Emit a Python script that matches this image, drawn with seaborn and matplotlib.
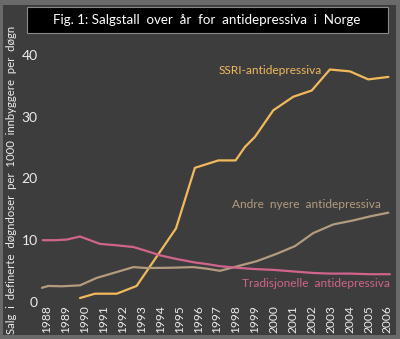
import matplotlib
matplotlib.use("Agg")
import matplotlib.pyplot as plt
from matplotlib.patches import Rectangle
import pandas as pd
import seaborn as sns

sns.set_style("white")
plt.rcParams["font.family"] = ["Lato", "DejaVu Sans"]

# Data (fractional year positions, DDD per 1000 inhabitants per day)
ssri_x = [1989.76, 1990.55, 1991.70, 1992.75, 1994.83, 1995.83, 1997.07, 1997.98,
          1998.48, 1999.0, 1999.97, 2001.03, 2002.0, 2002.96, 2004.02, 2004.99, 2006.05]
ssri_y = [0.65, 1.35, 1.35, 2.6, 11.9, 21.7, 22.9, 22.9,
          25.1, 26.7, 31.0, 33.2, 34.2, 37.6, 37.3, 36.0, 36.4]

trad_x = [1987.79, 1988.44, 1989.06, 1989.76, 1990.82, 1991.61, 1992.58, 1993.28, 1993.99,
          1994.87, 1995.83, 1996.45, 1997.15, 1998.03, 1998.9, 1999.97, 2001.03, 2002.08,
          2002.96, 2004.02, 2005.08, 2006.13]
trad_y = [10.0, 10.0, 10.1, 10.6, 9.4, 9.2, 8.9, 8.25, 7.55,
          6.95, 6.4, 6.15, 5.8, 5.55, 5.35, 5.2, 4.95, 4.7,
          4.6, 4.6, 4.5, 4.5]

andre_x = [1987.74, 1988.09, 1988.8, 1989.76, 1990.64, 1991.70, 1992.58, 1993.28, 1994.6,
           1995.75, 1996.45, 1997.15, 1998.03, 1999.09, 2000.15, 2001.12, 2002.08, 2003.14,
           2004.2, 2005.08, 2006.05]
andre_y = [2.3, 2.6, 2.55, 2.7, 3.9, 4.85, 5.65, 5.5, 5.55,
           5.65, 5.4, 5.05, 5.75, 6.6, 7.8, 9.05, 11.15, 12.55,
           13.2, 13.85, 14.45]

years = list(range(1988, 2007))
y_ticks = [0, 10, 20, 30, 40]

series = ["SSRI-antidepressiva", "Andre nyere antidepressiva", "Tradisjonelle antidepressiva"]
colors = {series[0]: "#f2b95c", series[1]: "#b39b7f", series[2]: "#d0648c"}
label_pos = {series[0]: (1999.8, 37.4), series[1]: (2001.7, 15.8), series[2]: (2002.2, 3.0)}

df = pd.concat([
    pd.DataFrame({"year": ssri_x, "value": ssri_y, "type": series[0]}),
    pd.DataFrame({"year": andre_x, "value": andre_y, "type": series[1]}),
    pd.DataFrame({"year": trad_x, "value": trad_y, "type": series[2]}),
])

fig = plt.figure(figsize=(4.0, 3.39), dpi=100)
fig.patch.set_facecolor("#6a6a6a")
fig.patches.append(Rectangle((0.0075, 0.0118), 0.982, 0.973, transform=fig.transFigure,
                             facecolor="#3d3d3d", edgecolor="none", zorder=-10))
# title box
fig.patches.append(Rectangle((0.0675, 0.9027), 0.9025, 0.0767, transform=fig.transFigure,
                             facecolor="black", edgecolor="#8a8a8a", linewidth=0.8, zorder=-9))
fig.text(0.5175, 0.941, "Fig. 1: Salgstall  over  år  for  antidepressiva  i  Norge",
         color="white", fontsize=9.6, ha="center", va="center", zorder=5)

ax = fig.add_axes([0.1025, 0.109, 0.8755, 0.748])
ax.set_facecolor("none")
sns.lineplot(data=df, x="year", y="value", hue="type", palette=colors, sort=False,
             estimator=None, linewidth=1.6, legend=False, ax=ax)

for name, (lx, ly) in label_pos.items():
    ax.text(lx, ly, name.replace(" ", "  "), color=colors[name], fontsize=8.6,
            ha="center", va="center")

ax.set_xlim(1987.7, 2006.2)
ax.set_ylim(0, 41)
ax.set_xticks(years)
ax.set_xticklabels([str(y) for y in years], rotation=90, fontsize=8.6, color="#ececec")
ax.set_yticks(y_ticks)
ax.set_yticklabels([str(v) for v in y_ticks], fontsize=10, color="#ececec")
ax.tick_params(length=0, pad=2.5)
sns.despine(ax=ax, left=True, bottom=True)
ax.set_xlabel("")
ax.set_ylabel("Salg  i  definerte  døgndoser  per  1000  innbyggere  per  døgn",
              fontsize=8.2, color="#ececec")
ax.yaxis.set_label_coords(-0.068, 0.48)

fig.savefig("out.png", dpi=100, facecolor=fig.get_facecolor())
